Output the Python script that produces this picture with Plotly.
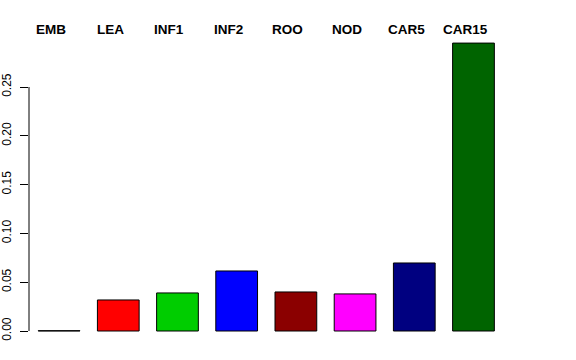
import plotly.graph_objects as go

categories = ["EMB", "LEA", "INF1", "INF2", "ROO", "NOD", "CAR5", "CAR15"]
values = [0.0003, 0.0318, 0.0390, 0.0615, 0.0400, 0.0380, 0.0697, 0.2950]
colors = ["#000000", "#FF0000", "#00CD00", "#0000FF", "#8B0000", "#FF00FF", "#000080", "#006400"]
tick_vals = [0.0, 0.05, 0.10, 0.15, 0.20, 0.25]
tick_text = ["0.00", "0.05", "0.10", "0.15", "0.20", "0.25"]

xpos = list(range(len(categories)))

fig = go.Figure()
fig.add_trace(go.Bar(
    x=xpos, y=values, width=0.705,
    marker=dict(color=colors, line=dict(color="black", width=1)),
    hoverinfo="skip", showlegend=False,
))

for i, c in enumerate(categories):
    fig.add_annotation(x=i, y=1.0, xref="x", yref="paper", text="<b>%s</b>" % c,
                       showarrow=False, xanchor="center", yanchor="middle",
                       xshift=-8, yshift=1,
                       font=dict(family="Liberation Sans, Arial, sans-serif", size=13.5, color="black"))

# axis line spanning tick range (R style)
fig.add_shape(type="line", xref="paper", yref="y", x0=0, x1=0, y0=tick_vals[0], y1=tick_vals[-1],
              line=dict(color="black", width=1))

fig.update_layout(
    width=576, height=360,
    margin=dict(l=29, r=30, t=30, b=20, autoexpand=False),
    plot_bgcolor="white", paper_bgcolor="white",
    font=dict(family="Liberation Sans, Arial, sans-serif", size=12, color="black"),
    xaxis=dict(range=[-0.508, 8.225], showgrid=False, zeroline=False, showticklabels=False,
               showline=False, ticks="", automargin=False),
    yaxis=dict(range=[-0.00922, 0.3084], showgrid=False, zeroline=False, showline=False,
               tickmode="array", tickvals=tick_vals, ticktext=tick_text,
               ticks="outside", ticklen=8, tickcolor="black", tickangle=-90,
               tickfont=dict(size=12), automargin=False, ticklabelstandoff=4),
)

fig.write_html("out.html")
